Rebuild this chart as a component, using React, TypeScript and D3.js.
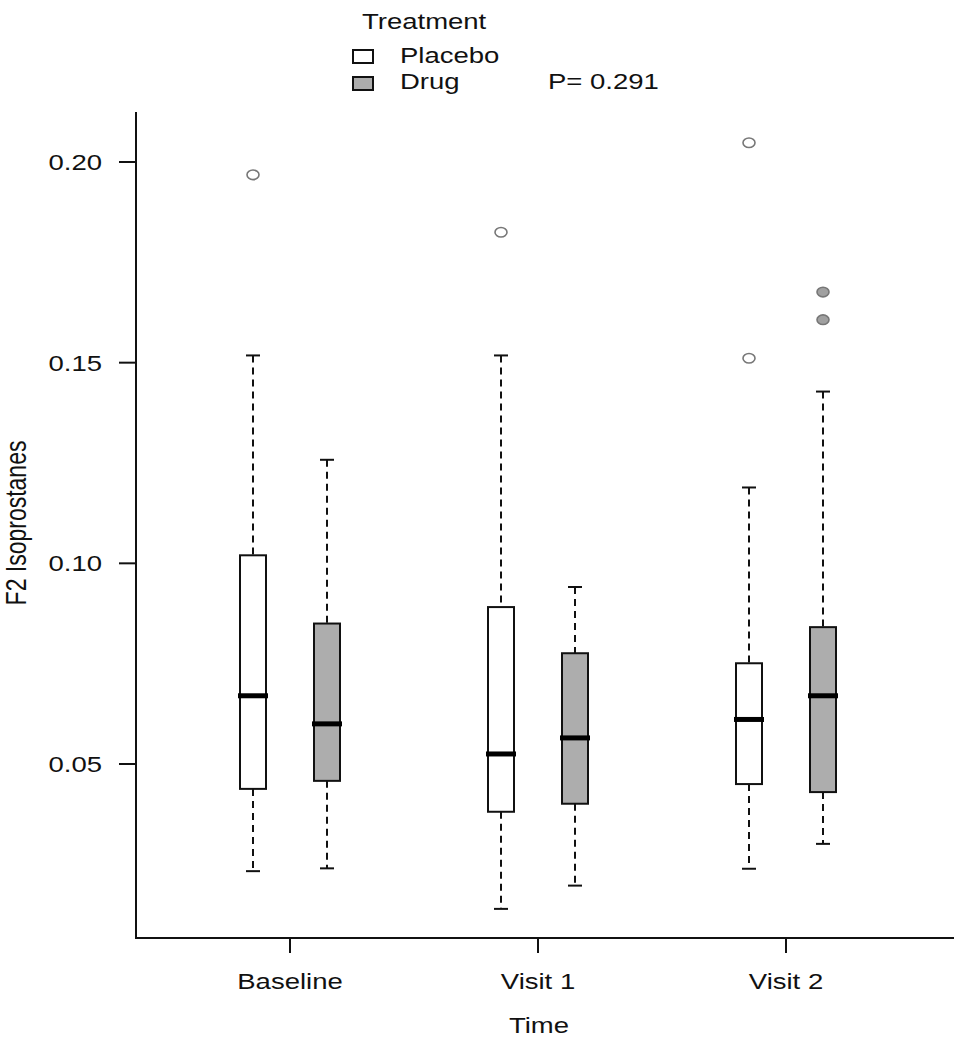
import React from 'react';
import * as d3 from 'd3';

// box statistics (F2 isoprostanes)
const times = ['Baseline', 'Visit 1', 'Visit 2'];
const treatments = ['Placebo', 'Drug'];
const yTicks = [0.05, 0.10, 0.15, 0.20];

const placeboLow = [0.0233, 0.0139, 0.0239];
const placeboQ1 = [0.0438, 0.0381, 0.0450];
const placeboMed = [0.0670, 0.0525, 0.0611];
const placeboQ3 = [0.1020, 0.0891, 0.0751];
const placeboHigh = [0.1518, 0.1518, 0.1189];
const placeboOut = [[0.1968], [0.1825], [0.2048, 0.1511]];

const drugLow = [0.0240, 0.0197, 0.0301];
const drugQ1 = [0.0458, 0.0401, 0.0430];
const drugMed = [0.0600, 0.0565, 0.0670];
const drugQ3 = [0.0850, 0.0776, 0.0841];
const drugHigh = [0.1258, 0.0941, 0.1428];
const drugOut = [[], [], [0.1676, 0.1607]];

const pLabel = 'P= 0.291';

const fills = { Placebo: '#ffffff', Drug: '#adadad' };
const font = 'Liberation Sans, Arial, sans-serif';
const SX = 1.25; // the original is stretched sideways

const T = ({ x, y, anchor = 'start', size = 22, rotate = 0, children }) => (
    <text
        transform={`translate(${x},${y}) scale(${SX},1) rotate(${rotate})`}
        textAnchor={anchor}
        fontSize={size}
        fontFamily={font}
        fill="#111"
    >
        {children}
    </text>
);

const App = () => {
    const width = 954;
    const height = 1050;

    const x = d3.scalePoint().domain(times).range([290, 786]);
    const dx = d3.scalePoint().domain(treatments).range([-37, 37]);
    const y = d3.scaleLinear().domain([0.05, 0.20]).range([764, 162]);

    const boxes = [];
    times.forEach((t, i) => {
        boxes.push({ time: t, trt: 'Placebo', low: placeboLow[i], q1: placeboQ1[i], med: placeboMed[i], q3: placeboQ3[i], high: placeboHigh[i], out: placeboOut[i] });
        boxes.push({ time: t, trt: 'Drug', low: drugLow[i], q1: drugQ1[i], med: drugMed[i], q3: drugQ3[i], high: drugHigh[i], out: drugOut[i] });
    });

    const bw = 26;
    const cap = 7;
    const axisLeft = 136;
    const axisBottom = 938;

    return (
        <svg width={width} height={height} style={{ position: 'absolute', left: 0, top: 0, background: '#fff' }}>
            {/* legend */}
            <T x={362} y={29}>Treatment</T>
            {treatments.map((t, i) => (
                <g key={t}>
                    <rect x={353} y={50 + i * 27} width={20} height={13} fill={fills[t]} stroke="#111" strokeWidth={2} />
                    <T x={400} y={63 + i * 26}>{t}</T>
                </g>
            ))}
            <T x={548} y={89}>{pLabel}</T>

            {/* boxes */}
            {boxes.map((b, k) => {
                const cx = x(b.time) + dx(b.trt);
                return (
                    <g key={k}>
                        <line x1={cx} x2={cx} y1={y(b.high)} y2={y(b.q3)} stroke="#111" strokeWidth={2} strokeDasharray="7,5" />
                        <line x1={cx} x2={cx} y1={y(b.q1)} y2={y(b.low)} stroke="#111" strokeWidth={2} strokeDasharray="7,5" />
                        <line x1={cx - cap} x2={cx + cap} y1={y(b.high)} y2={y(b.high)} stroke="#111" strokeWidth={2} />
                        <line x1={cx - cap} x2={cx + cap} y1={y(b.low)} y2={y(b.low)} stroke="#111" strokeWidth={2} />
                        <rect x={cx - bw / 2} y={y(b.q3)} width={bw} height={y(b.q1) - y(b.q3)} fill={fills[b.trt]} stroke="#111" strokeWidth={2} />
                        <line x1={cx - bw / 2 - 2} x2={cx + bw / 2 + 2} y1={y(b.med)} y2={y(b.med)} stroke="#000" strokeWidth={5} />
                        {b.out.map((o, j) => (
                            <ellipse key={j} cx={cx} cy={y(o)} rx={6} ry={4.8} fill={b.trt === 'Drug' ? '#a0a0a0' : '#fff'} stroke="#777" strokeWidth={1.6} />
                        ))}
                    </g>
                );
            })}

            {/* y axis */}
            <line x1={axisLeft} x2={axisLeft} y1={112} y2={axisBottom} stroke="#111" strokeWidth={2} />
            {yTicks.map(v => (
                <g key={v}>
                    <line x1={119} x2={axisLeft} y1={y(v)} y2={y(v)} stroke="#111" strokeWidth={2} />
                    <T x={102} y={y(v) + 8} anchor="end">{d3.format('.2f')(v)}</T>
                </g>
            ))}
            <T x={26} y={523} anchor="middle" size={23} rotate={-90}>F2 Isoprostanes</T>

            {/* x axis */}
            <line x1={axisLeft - 1} x2={width} y1={axisBottom} y2={axisBottom} stroke="#111" strokeWidth={2} />
            {times.map(t => (
                <g key={t}>
                    <line x1={x(t)} x2={x(t)} y1={axisBottom} y2={953} stroke="#111" strokeWidth={2} />
                    <T x={x(t)} y={989} anchor="middle">{t}</T>
                </g>
            ))}
            <T x={539} y={1033} anchor="middle">Time</T>
        </svg>
    );
};

export default App;
